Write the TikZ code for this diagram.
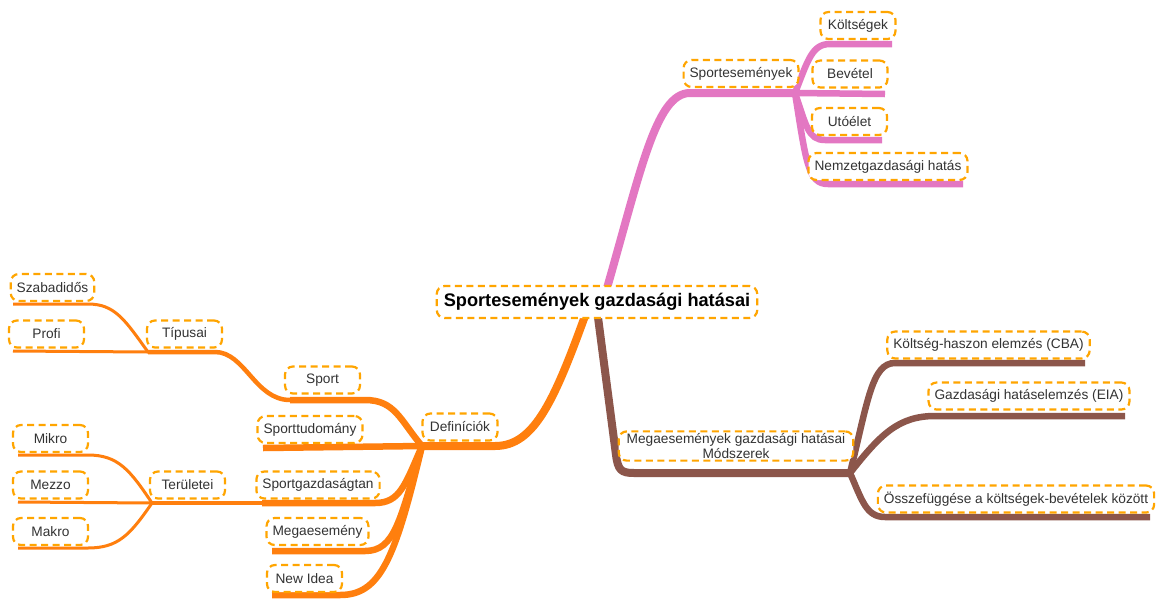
\documentclass[tikz,border=0pt]{standalone}
\usepackage{fontspec}
\setmainfont{Liberation Sans}
\usetikzlibrary{backgrounds}
\definecolor{morange}{HTML}{FF7F0E}
\definecolor{mpink}{HTML}{E377C2}
\definecolor{mbrown}{HTML}{8C564B}
\definecolor{boxline}{HTML}{FFA500}
\definecolor{txt}{HTML}{333333}

\begin{document}
\begin{tikzpicture}[x=1pt, y=-1pt, line join=round,
  lbl/.style={draw=boxline, line width=2.2pt, dash pattern=on 7pt off 4.5pt,
    rounded corners=8pt, fill=white, text=txt,
    font=\fontsize{13.7}{15}\selectfont,
    minimum width=75pt, minimum height=27pt, inner xsep=6pt, inner ysep=2pt},
  thick8/.style={line width=8pt},
  thick6/.style={line width=6.5pt},
  thick4/.style={line width=4.5pt},
  thick3/.style={line width=3pt}]
\useasboundingbox (0,0) rectangle (1157,598);

% nodes
\node[lbl, text=black, font=\bfseries\fontsize{18.2}{20}\selectfont,
  minimum height=32pt, inner xsep=7pt] (root) at (597,302) {Sportesemények gazdasági hatásai};

\node[lbl] (sportese) at (741,73.5) {Sportesemények};
\node[lbl] (koltseg) at (858,25.5) {Költségek};
\node[lbl] (bevetel) at (850,74) {Bevétel};
\node[lbl] (utoelet) at (849.5,121.5) {Utóélet};
\node[lbl] (nemzet) at (888,166.5) {Nemzetgazdasági hatás};

\node[lbl, align=center, inner xsep=8pt] (mega) at (736,446) {Megaesemények gazdasági hatásai\\Módszerek};
\node[lbl] (cba) at (988.5,345) {Költség-haszon elemzés (CBA)};
\node[lbl] (eia) at (1029,396) {Gazdasági hatáselemzés (EIA)};
\node[lbl] (ossze) at (1016,499) {Összefüggése a költségek-bevételek között};

\node[lbl] (defin) at (460,427) {Definíciók};
\node[lbl] (sport) at (322.5,380) {Sport};
\node[lbl] (sporttud) at (310,429.5) {Sporttudomány};
\node[lbl] (sportgazd) at (318,485) {Sportgazdaságtan};
\node[lbl] (megaes) at (317.5,531.5) {Megaesemény};
\node[lbl] (newidea) at (304.5,578.5) {New Idea};
\node[lbl] (tipusai) at (184.5,334) {Típusai};
\node[lbl] (szabad) at (52.5,287.5) {Szabadidős};
\node[lbl] (profi) at (46.5,334) {Profi};
\node[lbl] (terulet) at (187.5,485) {Területei};
\node[lbl] (mikro) at (50.5,438.5) {Mikro};
\node[lbl] (mezzo) at (50.5,485) {Mezzo};
\node[lbl] (makro) at (50.5,531.5) {Makro};

% hubs and free ends
\coordinate (hubse) at (795,93);
\coordinate (hubmm) at (850,473);
\coordinate (hubdef) at (422,446);
\coordinate (hubtip) at (148,352);
\coordinate (hubter) at (152,503);
\coordinate (sportl) at (290,400);
\coordinate (sgl) at (262,503);

\begin{scope}[on background layer]
\fill[white] (0,0) rectangle (1157,598);
% pink branch
\draw[mpink, thick8] ([xshift=6pt]root.center) .. controls (640,175) and (655,93) .. (690,93) -- (hubse);
\draw[mpink, thick6] (hubse) .. controls (808,60) and (812,44) .. (830,44) -- (892,44);
\draw[mpink, thick6] (hubse) -- (885,94);
\draw[mpink, thick6] (hubse) .. controls (806,125) and (808,140) .. (825,140) -- (882,140);
\draw[mpink, thick6] (hubse) .. controls (806,162) and (808,184) .. (828,184) -- (963,184);
% brown branch
\draw[mbrown, thick8] ([xshift=-1pt]root.center) -- (616,455) .. controls (618,470) and (621,473) .. (634,473) -- (hubmm);
\draw[mbrown, thick6] (hubmm) .. controls (868,400) and (872,363) .. (895,363) -- (1085,363);
\draw[mbrown, thick6] (hubmm) .. controls (880,435) and (898,416) .. (935,416) -- (1125,416);
\draw[mbrown, thick6] (hubmm) .. controls (862,500) and (866,517) .. (885,517) -- (1150,517);
% orange branch
\draw[morange, thick8] ([xshift=-7pt]root.center) .. controls (555,400) and (535,446) .. (495,446) -- (hubdef);
\draw[morange, thick6] (hubdef) .. controls (400,420) and (395,400) .. (365,400) -- (sportl);
\draw[morange, thick4] (sportl) .. controls (255,400) and (245,352) .. (215,352) -- (hubtip);
\draw[morange, thick3] (hubtip) .. controls (125,320) and (115,304) .. (88,304) -- (13,304);
\draw[morange, thick3] (hubtip) -- (13,351);
\draw[morange, thick6] (hubdef) -- (263,448);
\draw[morange, thick6] (hubdef) .. controls (405,485) and (400,503) .. (375,503) -- (sgl);
\draw[morange, thick4] (sgl) -- (hubter);
\draw[morange, thick3] (hubter) .. controls (130,470) and (118,455) .. (88,455) -- (18,455);
\draw[morange, thick3] (hubter) -- (18,502);
\draw[morange, thick3] (hubter) .. controls (130,535) and (118,548) .. (88,548) -- (18,548);
\draw[morange, thick6] (hubdef) .. controls (400,520) and (395,551) .. (365,551) -- (272,551);
\draw[morange, thick6] (hubdef) .. controls (395,560) and (380,595) .. (340,595) -- (272,595);
\end{scope}

\end{tikzpicture}
\end{document}
